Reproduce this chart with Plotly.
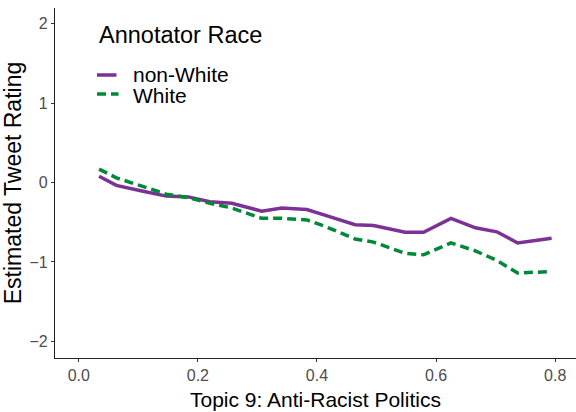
import plotly.graph_objects as go

# Topic proportion grid and estimated ratings per annotator group
topic_share = [0.034, 0.063, 0.106, 0.147, 0.184, 0.220, 0.257, 0.307, 0.341, 0.383,
               0.413, 0.464, 0.495, 0.548, 0.579, 0.625, 0.666, 0.702, 0.737, 0.794]
rating_non_white = [0.08, -0.035, -0.105, -0.17, -0.18, -0.24, -0.26, -0.36, -0.32, -0.34,
                    -0.41, -0.53, -0.54, -0.625, -0.625, -0.45, -0.57, -0.62, -0.76, -0.70]
rating_white = [0.17, 0.06, -0.045, -0.146, -0.19, -0.26, -0.32, -0.45, -0.45, -0.47,
                -0.55, -0.71, -0.75, -0.89, -0.91, -0.76, -0.86, -0.98, -1.14, -1.12]

groups = ["non-White", "White"]
x_ticks = [0.0, 0.2, 0.4, 0.6, 0.8]
y_ticks = [-2, -1, 0, 1, 2]

PURPLE = "#7b3294"
GREEN = "#008837"
DASH = "9px,5px"
FONT = "Liberation Sans, Arial, sans-serif"

fig = go.Figure()
fig.add_trace(go.Scatter(
    x=topic_share, y=rating_non_white, mode="lines", name=groups[0],
    line=dict(color=PURPLE, width=3.5), showlegend=False,
))
fig.add_trace(go.Scatter(
    x=topic_share, y=rating_white, mode="lines", name=groups[1],
    line=dict(color=GREEN, width=3.5, dash=DASH), showlegend=False,
))

axis_common = dict(
    showgrid=False, zeroline=False, showline=True, linecolor="#222222", linewidth=1.2,
    ticks="outside", ticklen=3, tickcolor="#333333", tickwidth=1,
    tickfont=dict(family=FONT, size=16, color="#4d4d4d"),
)

# Compact legend block in the upper-left of the panel
legend_shapes = [
    dict(type="line", xref="paper", yref="paper", x0=0.0806, x1=0.118, y0=0.8086, y1=0.8086,
         line=dict(color=PURPLE, width=3.5)),
    dict(type="line", xref="paper", yref="paper", x0=0.0806, x1=0.122, y0=0.754, y1=0.754,
         line=dict(color=GREEN, width=3.5, dash=DASH)),
]
text_items = [
    dict(text="Annotator Race", x=0.0825, y=0.9226, xanchor="left", yanchor="middle",
         font=dict(family=FONT, size=23.5, color="black")),
    dict(text=groups[0], x=0.1478, y=0.811, xanchor="left", yanchor="middle",
         font=dict(family=FONT, size=21, color="black")),
    dict(text=groups[1], x=0.1478, y=0.751, xanchor="left", yanchor="middle",
         font=dict(family=FONT, size=21, color="black")),
    # x-axis title, sitting on the bottom edge below the tick labels
    dict(text="Topic 9: Anti-Racist Politics", x=0.5, y=-0.1543, xanchor="center", yanchor="bottom",
         font=dict(family=FONT, size=21, color="black")),
]
annotations = [
    dict(xref="paper", yref="paper", showarrow=False, borderpad=0, **a)
    for a in text_items
]

fig.update_layout(
    width=576, height=412,
    margin=dict(l=55, r=0, t=8, b=54),
    paper_bgcolor="white", plot_bgcolor="white",
    font=dict(family=FONT, color="black"),
    xaxis=dict(
        range=[-0.04, 0.835], tickvals=x_ticks, ticktext=["0.0", "0.2", "0.4", "0.6", "0.8"],
        **axis_common,
    ),
    yaxis=dict(
        range=[-2.21, 2.2], tickvals=y_ticks,
        title=dict(text="Estimated Tweet Rating", font=dict(family=FONT, size=23), standoff=2),
        **axis_common,
    ),
    shapes=legend_shapes,
    annotations=annotations,
    showlegend=False,
)

fig.write_html("out.html")
